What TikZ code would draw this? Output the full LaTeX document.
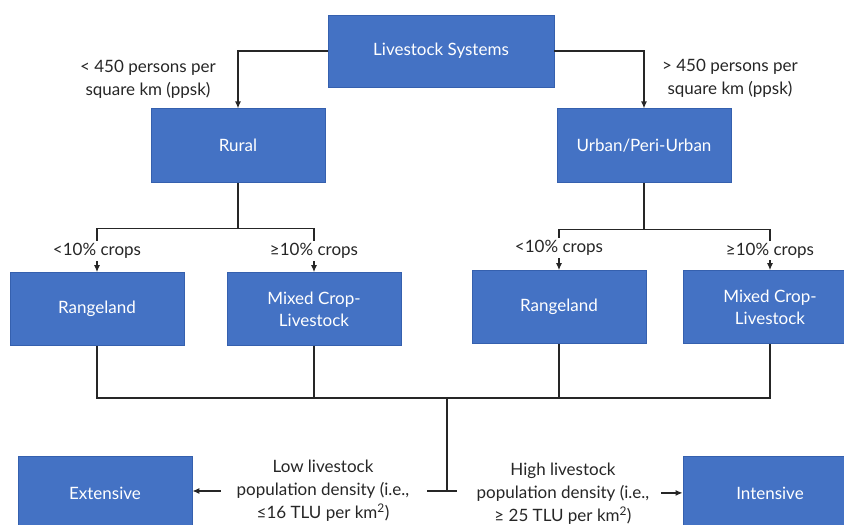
\documentclass[tikz,border=0pt]{standalone}
\usepackage{fontspec}
\setmainfont{Lato}
\usetikzlibrary{arrows.meta,positioning}
\definecolor{boxblue}{HTML}{4472C4}
\definecolor{boxedge}{HTML}{3560AE}
\definecolor{linegray}{HTML}{262626}

\begin{document}
\begin{tikzpicture}[
    x=1pt, y=-1pt,
    box/.style={draw=boxedge, fill=boxblue, line width=0.8pt, minimum width=174pt, minimum height=73pt, align=center, text=white, font=\fontsize{17}{22}\selectfont},
    lbl/.style={align=center, text=linegray, font=\fontsize{17}{23}\selectfont, inner sep=2pt},
    link/.style={line width=1.2pt, draw=linegray},
    arrow/.style={link, -{Latex[length=7pt,width=6pt]}}
]
\useasboundingbox (0,0) rectangle (844,525);

% top level
\node[box, minimum width=226pt, minimum height=72pt] (top) at (441,51) {Livestock Systems};
\node[box, minimum height=74pt, below=21pt of top, xshift=-203pt] (rural) {Rural};
\node[box, minimum height=74pt, below=21pt of top, xshift=203pt] (urban) {Urban/Peri-Urban};
\node[lbl] (ruralcond) at (148,79) {< 450 persons per\\square km (ppsk)};
\node[lbl] (urbancond) at (730,78) {> 450 persons per\\square km (ppsk)};

% systems
\node[box, below=89pt of rural, xshift=-141pt] (rangeL) {Rangeland};
\node[box, below=89pt of rural, xshift=76pt] (mixL) {Mixed Crop-\\Livestock};
\node[box, below=87pt of urban, xshift=-85pt] (rangeR) {Rangeland};
\node[box, below=87pt of urban, xshift=126pt] (mixR) {Mixed Crop-\\Livestock};

% outcomes
\node[box, below=110pt of rangeL, xshift=8pt] (ext) {Extensive};
\node[box, below=112pt of mixR] (int) {Intensive};
\node[lbl] (low) at (323,491) {Low livestock\\population density (i.e.,\\≤16 TLU per km\textsuperscript{2})};
\node[lbl] (high) at (563,494) {High livestock\\population density (i.e.,\\≥ 25 TLU per km\textsuperscript{2})};

\coordinate[below=45pt of rural] (rsplit);
\coordinate[below=46pt of urban] (usplit);
\coordinate (jct) at (447,398);
\coordinate (tbar) at (447,491);

\draw[arrow] (top.west) -| (rural);
\draw[arrow] (top.east) -| (urban);

\draw[link] (rural) -- (rsplit);
\draw[arrow] (rsplit) -| node[lbl, fill=white, pos=0.76] {<10\% crops} (rangeL);
\draw[arrow] (rsplit) -| node[lbl, fill=white, pos=0.76] {≥10\% crops} (mixL);
\draw[link] (urban) -- (usplit);
\draw[arrow] (usplit) -| node[lbl, fill=white, pos=0.73] {<10\% crops} (rangeR);
\draw[arrow] (usplit) -| node[lbl, fill=white, pos=0.76] {≥10\% crops} (mixR);

\draw[link] (rangeL) |- (jct) -| (mixR);
\draw[link] (mixL) -- (mixL |- jct);
\draw[link] (rangeR) -- (rangeR |- jct);
\draw[link] (jct) -- (tbar);
\draw[link] ([xshift=-20pt]tbar) -- ([xshift=10pt]tbar);

\draw[arrow, shorten <=14pt] (low) -- (low -| ext.east);
\draw[arrow, shorten <=10pt] (high.east |- int) -- (int);
\end{tikzpicture}
\end{document}
